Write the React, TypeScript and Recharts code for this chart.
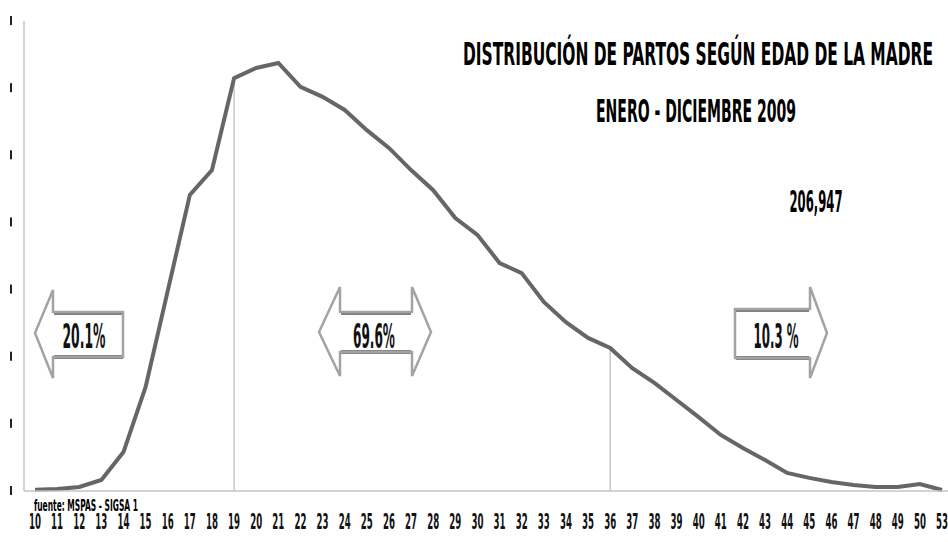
import React from 'react';
import { LineChart, Line, XAxis, YAxis, ReferenceLine } from 'recharts';

// edades de la madre (no hay 51 ni 52 en la fuente)
const ages = [
  '10', '11', '12', '13', '14', '15', '16', '17', '18', '19',
  '20', '21', '22', '23', '24', '25', '26', '27', '28', '29',
  '30', '31', '32', '33', '34', '35', '36', '37', '38', '39',
  '40', '41', '42', '43', '44', '45', '46', '47', '48', '49',
  '50', '53',
];

// partos por edad
const births = [
  40, 60, 120, 330, 1160, 3100, 5960, 8820, 9560, 12300,
  12600, 12750, 12040, 11740, 11350, 10750, 10220, 9560, 8960, 8130,
  7630, 6790, 6490, 5630, 5030, 4560, 4260, 3660, 3220, 2710,
  2200, 1670, 1280, 920, 540, 390, 270, 180, 120, 120,
  210, 30,
];

const yTicks = [0, 2000, 4000, 6000, 8000, 10000, 12000, 14000];

// edades donde cae la línea vertical (límites de los grupos)
const cutAges = ['19', '36'];

const title = 'DISTRIBUCIÓN DE PARTOS SEGÚN EDAD DE LA MADRE';
const subtitle = 'ENERO - DICIEMBRE 2009';
const totalLabel = '206,947';
const sourceLabel = 'fuente: MSPAS - SIGSA 1';
const shareLabels = ['20.1%', '69.6%', '10.3 %'];

const chartData = ages.map((age, i) => ({ age, births: births[i] }));

const FONT = '"Liberation Sans Narrow", "DejaVu Sans Condensed", "Liberation Sans", sans-serif';

const AgeTick = (props: any) => {
  const { x, payload } = props;
  return (
    <text
      x={x}
      y={529}
      textAnchor="middle"
      fontFamily={FONT}
      fontWeight="bold"
      fontSize={21}
      fill="#111"
      textLength={12}
      lengthAdjust="spacingAndGlyphs"
    >
      {payload.value}
    </text>
  );
};

// las etiquetas del eje Y están recortadas en el original: sólo se ve una rayita
const ClippedTick = (props: any) => {
  const { y } = props;
  return <rect x={10} y={y - 5} width={2} height={9} fill="#222" />;
};

const ShareText = ({ x, y, text, w }: { x: number; y: number; text: string; w: number }) => (
  <text
    x={x}
    y={y}
    textAnchor="middle"
    fontFamily={FONT}
    fontWeight="bold"
    fontSize={34}
    fill="#111"
    textLength={w}
    lengthAdjust="spacingAndGlyphs"
  >
    {text}
  </text>
);

const Arrow = ({ points, shaft }: { points: string; shaft: number[][] }) => (
  <g>
    {shaft.map((s, i) => (
      <line key={i} x1={s[0]} y1={s[1]} x2={s[2]} y2={s[3]} stroke="#7f7f7f" strokeWidth={4} />
    ))}
    <polygon points={points} fill="none" stroke="#a3a3a3" strokeWidth={2.5} strokeLinejoin="miter" />
  </g>
);

const App = () => {
  return (
    <div style={{ position: 'absolute', left: 0, top: 0, width: 948, height: 542, overflow: 'hidden', background: '#fff' }}>
      <LineChart
        width={960}
        height={542}
        data={chartData}
        margin={{ top: 21, right: 7, left: 0, bottom: 0 }}
      >
        <XAxis
          dataKey="age"
          interval={0}
          height={51}
          padding={{ left: 11, right: 11 }}
          axisLine={{ stroke: '#c4c4c4', strokeWidth: 1.5 }}
          tickLine={false}
          tick={<AgeTick />}
        />
        <YAxis
          width={24}
          domain={[0, 14000]}
          ticks={yTicks}
          axisLine={{ stroke: '#c4c4c4', strokeWidth: 1.5 }}
          tickLine={false}
          tick={<ClippedTick />}
        />
        {cutAges.map((a) => (
          <ReferenceLine
            key={a}
            segment={[{ x: a, y: 0 }, { x: a, y: births[ages.indexOf(a)] }]}
            stroke="#c8c8c8"
            strokeWidth={1.5}
          />
        ))}
        <Line
          type="linear"
          dataKey="births"
          stroke="#666666"
          strokeWidth={4}
          dot={false}
          isAnimationActive={false}
        />
      </LineChart>

      <svg width={948} height={542} style={{ position: 'absolute', left: 0, top: 0, pointerEvents: 'none' }}>
        <text x={698} y={65} textAnchor="middle" fontFamily={FONT} fontWeight="bold" fontSize={32} fill="#000"
          textLength={470} lengthAdjust="spacingAndGlyphs">{title}</text>
        <text x={696} y={122} textAnchor="middle" fontFamily={FONT} fontWeight="bold" fontSize={32} fill="#000"
          textLength={200} lengthAdjust="spacingAndGlyphs">{subtitle}</text>
        <text x={816} y={212} textAnchor="middle" fontFamily={FONT} fontWeight="bold" fontSize={30} fill="#000"
          textLength={53} lengthAdjust="spacingAndGlyphs">{totalLabel}</text>
        <text x={34} y={511} fontFamily={FONT} fontWeight="bold" fontSize={16} fill="#000"
          textLength={104} lengthAdjust="spacingAndGlyphs">{sourceLabel}</text>

        <Arrow
          points="35,333 53,290 53,312 123,312 123,357 53,357 53,378"
          shaft={[[54, 313, 123, 313], [54, 357, 123, 357]]}
        />
        <ShareText x={84} y={348} text={shareLabels[0]} w={43} />

        <Arrow
          points="319,332 340,287 340,312 412,312 412,287 431,332 412,376 412,352 340,352 340,376"
          shaft={[[341, 313, 411, 313], [341, 352, 411, 352]]}
        />
        <ShareText x={374} y={348} text={shareLabels[1]} w={42} />

        <Arrow
          points="735,309 810,309 810,287 827,333 810,378 810,358 735,358"
          shaft={[[736, 310, 809, 310], [736, 358, 809, 358]]}
        />
        <ShareText x={776} y={348} text={shareLabels[2]} w={45} />
      </svg>
    </div>
  );
};

export default App;
